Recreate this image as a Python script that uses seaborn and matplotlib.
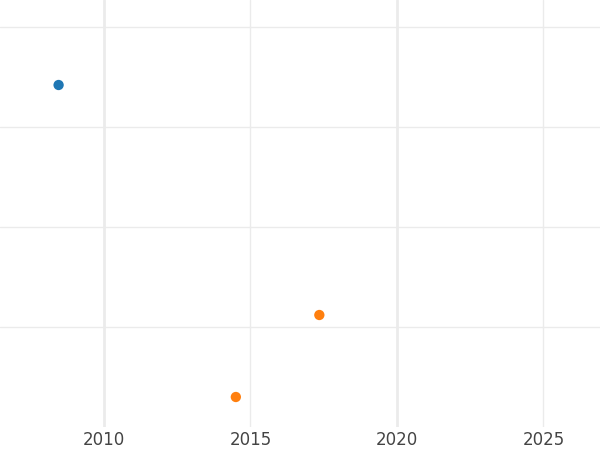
import matplotlib
matplotlib.use("Agg")
import matplotlib.pyplot as plt
import seaborn as sns
import pandas as pd

# values
years = [2008.45, 2014.5, 2017.35]
values = [3.42, 0.30, 1.12]
groups = ["A", "B", "B"]
palette = {"A": "#1f77b4", "B": "#ff7f0e"}

major_years = [2010, 2020]
minor_years = [2015, 2025]
y_grid = [1, 2, 3, 4]

df = pd.DataFrame({"year": years, "value": values, "group": groups})

sns.set_theme(style="white")
plt.rcParams["font.family"] = ["DejaVu Sans"]

fig = plt.figure(figsize=(6, 4.5), dpi=100)
ax = fig.add_axes([0, 23 / 450, 1, 427 / 450])

sns.scatterplot(data=df, x="year", y="value", hue="group", palette=palette,
                s=55, linewidth=0, legend=False, ax=ax, zorder=3)

ax.set_xlim(2006.45, 2026.93)
ax.set_ylim(0, 4.27)

ax.set_xticks(major_years)
ax.set_xticklabels([str(y) for y in major_years])
ax.set_xticks(minor_years, minor=True)
ax.set_xticklabels([str(y) for y in minor_years], minor=True)
ax.set_yticks(y_grid)
ax.set_yticklabels([])

ax.tick_params(axis="x", which="both", length=0, labelsize=12,
               labelcolor="#444444", pad=3)
ax.tick_params(axis="y", length=0)

ax.grid(False)
ax.grid(axis="x", which="major", color="#ebebeb", linewidth=2)
ax.grid(axis="x", which="minor", color="#ebebeb", linewidth=1)
ax.grid(axis="y", which="major", color="#ebebeb", linewidth=1)
ax.set_axisbelow(True)

for s in ax.spines.values():
    s.set_visible(False)
ax.set_xlabel("")
ax.set_ylabel("")

fig.savefig("out.png", dpi=100)
